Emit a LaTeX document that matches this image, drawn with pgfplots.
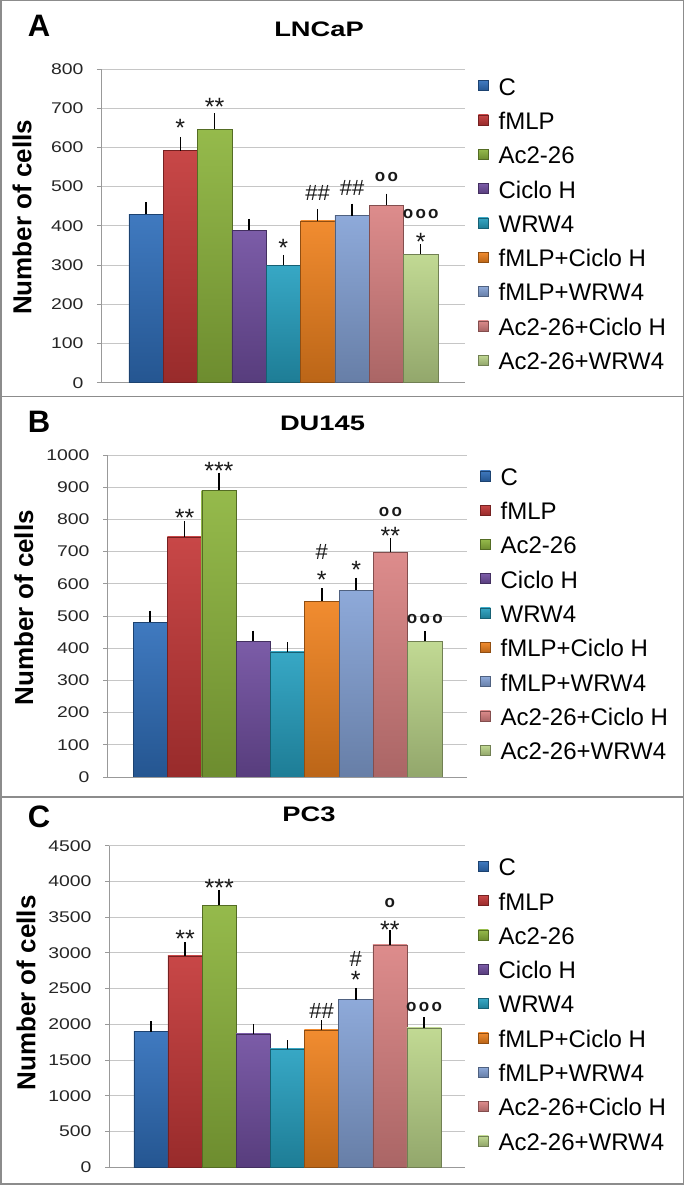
\documentclass[border=0pt]{standalone}
\usepackage{fontspec}
\setmainfont{Liberation Sans}
\newfontfamily\tickfont[FakeStretch=1.25]{Liberation Sans}
\newfontfamily\titlefont[FakeStretch=1.3]{Liberation Sans}
\usepackage{pgfplots}
\pgfplotsset{compat=1.18}

\definecolor{cC}{RGB}{47,110,186}
\definecolor{cF}{RGB}{195,55,55}
\definecolor{cA}{RGB}{140,180,60}
\definecolor{cH}{RGB}{112,78,160}
\definecolor{cW}{RGB}{38,160,192}
\definecolor{cFH}{RGB}{240,130,30}
\definecolor{cFW}{RGB}{132,162,214}
\definecolor{cAH}{RGB}{218,130,130}
\definecolor{cAW}{RGB}{188,214,138}
\definecolor{panelframe}{RGB}{140,140,140}

\pgfplotsset{
  countaxis/.style={
    scale only axis,
    ybar,
    axis x line*=bottom, axis y line*=left,
    axis line style={draw=gray!80, line width=0.9pt},
    xtick=\empty,
    ymajorgrids, grid style={gray!45, line width=0.9pt},
    tick align=outside, major tick length=4pt,
    ytick style={gray!80, line width=0.9pt},
    yticklabel style={font=\tickfont\fontsize{15.5}{15.5}\selectfont, text=black!85, xshift=-10pt},
    /pgf/number format/assume math mode=true,
    /pgf/number format/1000 sep={},
    ymin=0,
    ylabel={Number of cells},
    ylabel style={font=\bfseries\fontsize{26}{26}\selectfont, anchor=center},
    legend style={draw=none, fill=none, at={(1,0.5)}, anchor=west, xshift=10pt,
      row sep=11.3pt, column sep=10pt, font=\fontsize{24}{24}\selectfont,
      nodes={inner sep=0pt, text height=18pt, text depth=5pt}},
    legend cell align=left,
    legend image code/.code={\path[##1] (0pt,-2pt) rectangle (10pt,8pt);},
  },
  bs/.style={bar shift=0pt, bar width=34.3pt, draw=#1!60!black, line width=0.4pt,
    top color=#1!92!white, bottom color=#1!78!black,
    error bars/.cd, y dir=plus, y explicit,
    error bar style={black, line width=1.5pt},
    error mark options={black, line width=1.5pt, mark size=3.5pt}},
}
\tikzset{
  ann/.style={font=\fontsize{22}{22}\selectfont, text=black!90, inner sep=0pt},
  star/.style={ann, font=\fontsize{25}{25}\selectfont, yshift=-5pt},
  circ/.style={ann, font=\bfseries\fontsize{17}{17}\selectfont},
}
\newcommand\ring[1]{\ifcase#1\or o\or o\kern2.3pt o\or o\kern2.3pt o\kern2.3pt o\fi}

\begin{document}
\begin{tikzpicture}
\useasboundingbox (0,0) rectangle (684pt,1185pt);
\draw[panelframe, line width=1.5pt] (0.75pt,0.75pt) rectangle (683.25pt,1184.25pt);
\draw[panelframe, line width=1.5pt] (0,788.5pt) -- (684pt,788.5pt);
\draw[panelframe, line width=1.5pt] (0,388pt) -- (684pt,388pt);

% panel A
\node[font=\bfseries\fontsize{31}{31}\selectfont] at (39pt,1159pt) {A};
\node[font=\titlefont\bfseries\fontsize{21}{21}\selectfont] at (319pt,1155.3pt) {LNCaP};
\begin{axis}[countaxis, at={(101pt,802.3pt)}, anchor=south west,
  width=364pt, height=313.7pt, xmin=-0.31, xmax=10.29,
  ymax=800, ytick={0,100,...,800},
  ylabel style={at={(axis description cs:-0.217,0.527)}}]
\addplot[bs=cC]  coordinates {(1,429) +- (0,22)};
\addplot[bs=cF]  coordinates {(2,592) +- (0,26)};
\addplot[bs=cA]  coordinates {(3,646) +- (0,32)};
\addplot[bs=cH]  coordinates {(4,389) +- (0,20)};
\addplot[bs=cW]  coordinates {(5,300) +- (0,17)};
\addplot[bs=cFH] coordinates {(6,413) +- (0,21)};
\addplot[bs=cFW] coordinates {(7,426) +- (0,22)};
\addplot[bs=cAH] coordinates {(8,452) +- (0,21)};
\addplot[bs=cAW] coordinates {(9,327) +- (0,17)};
\legend{C,fMLP,Ac2-26,Ciclo H,WRW4,fMLP+Ciclo H,fMLP+WRW4,Ac2-26+Ciclo H,Ac2-26+WRW4}
\node[star] at (axis cs:2,663) {*};
\node[star] at (axis cs:3,717) {**};
\node[star] at (axis cs:5,356) {*};
\node[ann]  at (axis cs:6,483) {\#\#};
\node[ann]  at (axis cs:7,497) {\#\#};
\node[circ] at (axis cs:8,525) {\ring2};
\node[circ] at (axis cs:9,430) {\ring3};
\node[star] at (axis cs:9,371) {*};
\end{axis}

% panel B
\node[font=\bfseries\fontsize{31}{31}\selectfont] at (39pt,763pt) {B};
\node[font=\titlefont\bfseries\fontsize{21}{21}\selectfont] at (322.5pt,761.5pt) {DU145};
\begin{axis}[countaxis, at={(107pt,408pt)}, anchor=south west,
  width=360pt, height=322pt, xmin=-0.26, xmax=10.23,
  ymax=1000, ytick={0,100,...,1000},
  ylabel style={at={(axis description cs:-0.231,0.526)}}]
\addplot[bs=cC]  coordinates {(1,481) +- (0,25)};
\addplot[bs=cF]  coordinates {(2,746) +- (0,38)};
\addplot[bs=cA]  coordinates {(3,890) +- (0,44)};
\addplot[bs=cH]  coordinates {(4,422) +- (0,22)};
\addplot[bs=cW]  coordinates {(5,389) +- (0,18)};
\addplot[bs=cFH] coordinates {(6,546) +- (0,30)};
\addplot[bs=cFW] coordinates {(7,580) +- (0,28)};
\addplot[bs=cAH] coordinates {(8,698) +- (0,33)};
\addplot[bs=cAW] coordinates {(9,421) +- (0,21)};
\legend{C,fMLP,Ac2-26,Ciclo H,WRW4,fMLP+Ciclo H,fMLP+WRW4,Ac2-26+Ciclo H,Ac2-26+WRW4}
\node[star] at (axis cs:2,819) {**};
\node[star] at (axis cs:3,966) {***};
\node[star] at (axis cs:6,627) {*};
\node[ann]  at (axis cs:6,698) {\#};
\node[star] at (axis cs:7,660) {*};
\node[star] at (axis cs:8,764) {**};
\node[circ] at (axis cs:8,824) {\ring2};
\node[circ] at (axis cs:9,491) {\ring3};
\end{axis}

% panel C
\node[font=\bfseries\fontsize{31}{31}\selectfont] at (39pt,368pt) {C};
\node[font=\titlefont\bfseries\fontsize{21}{21}\selectfont] at (309pt,370.5pt) {PC3};
\begin{axis}[countaxis, at={(109pt,17.7pt)}, anchor=south west,
  width=356pt, height=321.6pt, xmin=-0.23, xmax=10.20,
  ymax=4500, ytick={0,500,...,4500},
  ylabel style={at={(axis description cs:-0.233,0.542)}}]
\addplot[bs=cC]  coordinates {(1,1898) +- (0,100)};
\addplot[bs=cF]  coordinates {(2,2957) +- (0,140)};
\addplot[bs=cA]  coordinates {(3,3666) +- (0,168)};
\addplot[bs=cH]  coordinates {(4,1866) +- (0,90)};
\addplot[bs=cW]  coordinates {(5,1656) +- (0,75)};
\addplot[bs=cFH] coordinates {(6,1922) +- (0,90)};
\addplot[bs=cFW] coordinates {(7,2346) +- (0,117)};
\addplot[bs=cAH] coordinates {(8,3111) +- (0,159)};
\addplot[bs=cAW] coordinates {(9,1950) +- (0,102)};
\legend{C,fMLP,Ac2-26,Ciclo H,WRW4,fMLP+Ciclo H,fMLP+WRW4,Ac2-26+Ciclo H,Ac2-26+WRW4}
\node[star] at (axis cs:2,3264) {**};
\node[star] at (axis cs:3,3982) {***};
\node[ann]  at (axis cs:6,2191) {\#\#};
\node[star] at (axis cs:7,2691) {*};
\node[ann]  at (axis cs:7,2915) {\#};
\node[star] at (axis cs:8,3390) {**};
\node[circ] at (axis cs:8,3694) {\ring1};
\node[circ] at (axis cs:9,2239) {\ring3};
\end{axis}
\end{tikzpicture}
\end{document}
